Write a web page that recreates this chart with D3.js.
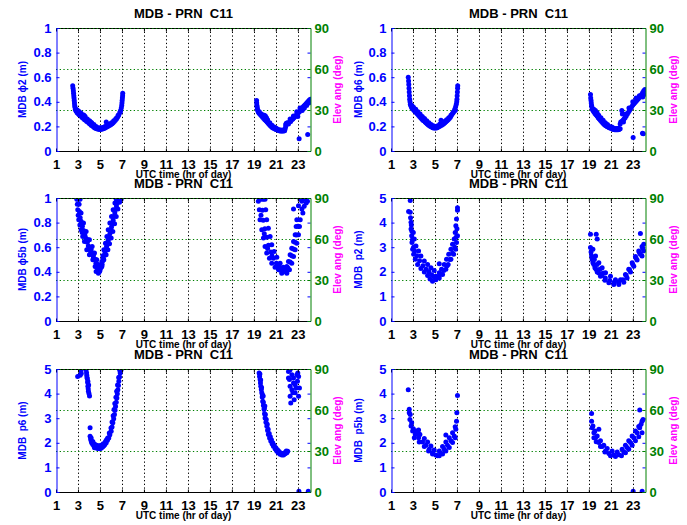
<!DOCTYPE html>
<html><head><meta charset="utf-8">
<script src="https://cdn.jsdelivr.net/npm/d3@7"></script>
<style>
body{margin:0;background:#fff}
svg{display:block;font-family:"Liberation Sans",Arial,Helvetica,sans-serif;font-weight:bold}
</style></head><body><svg id="c" width="687" height="525"></svg>
<script>
const titleText = "MDB - PRN  C11";
const xLabelText = "UTC time (hr of day)";
const elevLabelText = "Elev ang (deg)";
const xTicks = [1,3,5,7,9,11,13,15,17,19,21,23];
const phiTicks = [0,0.2,0.4,0.6,0.8,1];
const pTicks = [0,1,2,3,4,5];
const elevTicks = [0,30,60,90];
const yLabels = ["MDB \u03D52 (m)","MDB \u03D56 (m)","MDB \u03D55b (m)","MDB  p2 (m)","MDB  p6 (m)","MDB  p5b (m)"];

const phi2Points = [
[2.52,0.53],[2.55,0.51],[2.58,0.49],[2.6,0.47],[2.62,0.45],[2.64,0.43],[2.66,0.41],[2.68,0.39],[2.7,0.37],[2.73,0.355],[2.76,0.34],[2.8,0.33],[2.85,0.325],[2.9,0.315],[2.95,0.31],[3.0,0.305],[3.1,0.295],[3.2,0.29],[3.3,0.28],[3.4,0.27],[3.5,0.265],[3.6,0.255],[3.7,0.25],[3.8,0.24],[3.9,0.235],[4.0,0.225],[4.1,0.22],[4.2,0.21],[4.3,0.205],[4.4,0.198],[4.5,0.19],[4.6,0.185],[4.7,0.18],[4.8,0.178],[4.9,0.176],[5.0,0.175],[5.1,0.176],[5.2,0.178],[5.3,0.181],[5.4,0.185],[5.5,0.19],[5.6,0.195],[5.7,0.2],[5.8,0.205],[5.9,0.21],[6.0,0.215],[6.1,0.222],[6.2,0.23],[6.3,0.24],[6.4,0.25],[6.5,0.26],[6.6,0.275],[6.7,0.29],[6.8,0.31],[6.88,0.33],[6.94,0.35],[6.98,0.37],[7.0,0.39],[7.02,0.41],[7.04,0.43],[7.06,0.45],[7.07,0.47],
[2.9,0.335],[3.05,0.325],[3.25,0.31],[3.45,0.295],[3.65,0.28],[3.85,0.26],[4.05,0.245],[4.25,0.23],[4.45,0.215],[4.65,0.2],[4.85,0.19],[5.05,0.19],[5.25,0.192],[5.45,0.2],[5.57,0.235],[5.65,0.21],[5.85,0.22],[6.05,0.23],[6.25,0.245],[6.45,0.265],[6.65,0.29],[6.85,0.32],[3.55,0.29],[4.15,0.235],
[19.25,0.41],[19.26,0.39],[19.28,0.37],[19.3,0.355],[19.33,0.34],[19.36,0.33],[19.4,0.32],[19.45,0.31],[19.5,0.305],[19.6,0.295],[19.7,0.285],[19.8,0.275],[19.9,0.265],[20.0,0.255],[20.1,0.245],[20.2,0.235],[20.3,0.225],[20.4,0.215],[20.5,0.205],[20.6,0.198],[20.7,0.19],[20.8,0.185],[20.9,0.18],[21.0,0.175],[21.1,0.172],[21.2,0.168],[21.3,0.165],[21.4,0.163],[21.5,0.162],[21.6,0.162],[21.7,0.163],[21.8,0.165],
[19.5,0.32],[19.7,0.3],[19.95,0.29],[20.05,0.285],[20.15,0.27],[20.25,0.255],[20.45,0.23],[20.65,0.21],[20.85,0.195],[21.05,0.185],[21.25,0.175],[21.45,0.17],[21.65,0.17],[21.85,0.18],[21.9,0.2],
[21.9,0.215],[21.95,0.225],[22.05,0.23],[22.15,0.22],[22.25,0.235],[22.35,0.24],[22.45,0.255],[22.55,0.26],[22.65,0.27],[22.75,0.28],[22.85,0.29],[22.95,0.3],[23.05,0.31],[23.15,0.32],[23.25,0.335],[23.35,0.345],[23.45,0.355],[23.55,0.365],[23.65,0.375],[23.75,0.385],[23.85,0.395],[23.95,0.405],[24.05,0.415],[24.15,0.42],[24.2,0.41],
[22.3,0.26],[22.6,0.285],[22.9,0.32],[23.2,0.35],[23.4,0.33],[23.6,0.35],[23.8,0.37],[24.0,0.39],[24.1,0.4],[23.0,0.28],
[23.12,0.1],[23.9,0.135]
];

const phi6Points = [
[2.57,0.6],[2.6,0.57],[2.62,0.54],[2.64,0.51],[2.66,0.48],[2.68,0.45],[2.7,0.42],[2.73,0.4],[2.76,0.38],[2.8,0.37],[2.85,0.36],[2.9,0.35],[3.0,0.34],[3.1,0.33],[3.2,0.32],[3.3,0.31],[3.4,0.3],[3.5,0.29],[3.6,0.28],[3.7,0.27],[3.8,0.26],[3.9,0.25],[4.0,0.245],[4.1,0.235],[4.2,0.228],[4.3,0.22],[4.4,0.212],[4.5,0.205],[4.6,0.2],[4.7,0.195],[4.8,0.19],[4.9,0.188],[5.0,0.186],[5.1,0.187],[5.2,0.19],[5.3,0.195],[5.4,0.2],[5.5,0.205],[5.6,0.21],[5.7,0.215],[5.8,0.222],[5.9,0.23],[6.0,0.238],[6.1,0.245],[6.2,0.255],[6.3,0.265],[6.4,0.275],[6.5,0.29],[6.6,0.305],[6.7,0.32],[6.8,0.34],[6.88,0.36],[6.94,0.38],[6.98,0.4],[7.0,0.42],[7.02,0.45],[7.04,0.48],[7.06,0.51],[7.07,0.53],
[2.9,0.37],[3.05,0.355],[3.25,0.34],[3.45,0.32],[3.65,0.3],[3.85,0.28],[4.05,0.265],[4.25,0.245],[4.45,0.23],[4.65,0.215],[4.85,0.205],[5.05,0.2],[5.25,0.205],[5.45,0.22],[5.55,0.25],[5.65,0.23],[5.85,0.24],[6.05,0.255],[6.25,0.27],[6.45,0.29],[6.65,0.31],[6.85,0.33],
[19.15,0.46],[19.17,0.43],[19.2,0.41],[19.22,0.39],[19.25,0.37],[19.28,0.355],[19.32,0.34],[19.38,0.33],[19.45,0.32],[19.55,0.305],[19.65,0.295],[19.75,0.285],[19.85,0.27],[19.95,0.26],[20.05,0.25],[20.15,0.24],[20.25,0.23],[20.35,0.22],[20.45,0.212],[20.55,0.205],[20.65,0.2],[20.75,0.195],[20.85,0.19],[20.95,0.186],[21.05,0.182],[21.15,0.178],[21.25,0.175],[21.35,0.173],[21.45,0.172],[21.55,0.172],[21.65,0.173],[21.75,0.175],[21.85,0.18],
[19.45,0.34],[19.6,0.33],[19.75,0.31],[19.9,0.29],[20.1,0.27],[20.3,0.25],[20.5,0.23],[20.7,0.215],[20.9,0.2],[21.1,0.195],[21.3,0.185],[21.5,0.183],[21.7,0.185],
[21.85,0.22],[21.9,0.235],[22.0,0.24],[22.1,0.25],[22.15,0.235],[22.2,0.26],[22.3,0.27],[22.4,0.285],[22.5,0.3],[22.6,0.315],[22.7,0.33],[22.8,0.345],[22.9,0.36],[23.0,0.375],[23.1,0.385],[23.2,0.395],[23.3,0.405],[23.4,0.415],[23.5,0.425],[23.6,0.435],[23.7,0.445],[23.8,0.46],[23.9,0.475],[24.0,0.49],[24.1,0.5],
[22.0,0.33],[22.05,0.3],[22.35,0.3],[22.65,0.35],[23.0,0.4],[23.3,0.43],[23.6,0.45],[23.9,0.44],[24.05,0.46],
[23.03,0.11],[23.88,0.145],[23.95,0.14]
];

const phi5bPoints = [
[2.89,0.99],[2.98,0.905],[3.07,0.823],[3.28,0.742],[3.43,0.688],[3.59,0.647],[3.8,0.579],[4.04,0.538],[4.35,0.497],[4.56,0.443],[4.65,0.402],
[3.19,0.99],[3.28,0.878],[3.5,0.796],[3.74,0.728],[4.04,0.66],[4.29,0.606],[4.5,0.552],[4.71,0.497],[4.9,0.443],[4.96,0.402],[4.86,0.389],
[3.04,0.99],[3.13,0.89],[3.28,0.81],[3.51,0.735],[3.74,0.67],[3.94,0.61],[4.15,0.565],[4.4,0.52],[4.63,0.47],[4.8,0.42],
[2.94,0.95],[3.02,0.86],[3.17,0.78],[3.38,0.72],[3.63,0.69],[3.85,0.64],[4.1,0.6],[4.3,0.55],[4.5,0.5],[4.7,0.44],
[3.1,0.95],[3.2,0.84],[3.4,0.77],[3.62,0.7],[3.9,0.66],[4.2,0.58],[4.42,0.54],[4.6,0.5],[4.85,0.46],
[5.05,0.43],[5.17,0.484],[5.26,0.53],[5.35,0.579],[5.5,0.633],[5.63,0.688],[5.75,0.742],[5.9,0.796],[6.05,0.85],[6.2,0.905],[6.36,0.959],[6.48,0.99],
[5.17,0.443],[5.35,0.497],[5.56,0.538],[5.72,0.579],[5.87,0.628],[6.02,0.674],[6.17,0.728],[6.33,0.791],[6.48,0.85],[6.63,0.91],[6.78,0.965],[6.93,0.99],
[5.11,0.436],[5.26,0.49],[5.41,0.534],[5.53,0.58],[5.68,0.63],[5.82,0.68],[5.96,0.735],[6.11,0.79],[6.26,0.85],[6.41,0.907],[6.57,0.962],[6.7,0.99],
[5.2,0.46],[5.3,0.51],[5.45,0.56],[5.6,0.605],[5.75,0.655],[5.9,0.71],[6.05,0.765],[6.2,0.82],[6.35,0.88],[6.5,0.935],[6.62,0.975],
[5.0,0.41],[4.95,0.43],
[19.41,0.973],[19.5,0.905],[19.56,0.823],[19.72,0.742],[19.87,0.674],[20.02,0.606],[20.17,0.552],[20.42,0.511],[20.63,0.47],[20.93,0.4375],[21.24,0.416],[21.54,0.402],
[20.02,0.99],[20.08,0.905],[20.17,0.823],[20.32,0.755],[20.48,0.688],[20.63,0.62],[20.84,0.565],[21.09,0.519],[21.39,0.47],[21.69,0.4375],
[19.7,0.99],[19.78,0.9],[19.85,0.82],[20.0,0.75],[20.17,0.68],[20.33,0.615],[20.55,0.56],[20.78,0.51],[21.05,0.47],[21.35,0.44],[21.6,0.42],[19.65,0.86],[19.95,0.71],[20.25,0.59],[20.65,0.53],[21.2,0.45],
[21.54,0.389],
[21.85,0.416],[22.0,0.443],[22.15,0.484],[22.3,0.538],[22.45,0.592],[22.61,0.647],[22.76,0.701],[22.85,0.769],[22.91,0.823],
[22.0,0.389],[22.24,0.416],[22.45,0.47],[22.61,0.524],[22.76,0.579],[22.91,0.633],[23.06,0.701],[23.15,0.769],[23.22,0.823],
[21.9,0.4],[22.1,0.43],[22.3,0.48],[22.45,0.53],[22.6,0.585],[22.75,0.64],[22.88,0.7],[23.0,0.77],
[22.61,0.91],[23.06,0.9375],[23.37,0.973],[23.46,0.878],[23.58,0.932],[23.76,0.959],[23.37,0.91],[23.67,0.99],[23.22,0.99],[23.88,0.973],[19.87,0.99]
];

const p2Points = [
[2.75,4.9],[2.6,4.45],[2.75,4.42],[2.82,4.01],[2.82,3.74],[2.88,3.47],[2.91,3.19],[2.97,2.92],[3.06,2.71],[3.21,2.51],[3.42,2.3],[3.72,2.13],[4.03,1.99],[4.33,1.85],[4.55,1.71],[4.78,1.62],
[3.03,3.6],[3.12,3.33],[3.27,3.05],[3.51,2.85],[3.72,2.64],[4.03,2.44],[4.33,2.3],[4.63,2.16],[4.93,2.05],
[2.95,3.3],[3.05,3.0],[3.15,2.85],[3.35,2.65],[3.6,2.45],[3.9,2.25],[4.2,2.1],[4.45,2.0],[4.7,1.88],[4.9,1.8],[2.85,3.9],[2.9,3.65],[2.78,4.2],
[5.08,1.68],[5.39,1.75],[5.69,1.89],[5.99,2.1],[6.2,2.3],[6.45,2.51],[6.7,2.71],[6.87,2.92],[6.96,3.19],[7.05,3.47],
[5.08,1.82],[5.39,1.96],[5.6,2.1],[5.84,2.3],[6.05,2.51],[6.25,2.71],[6.45,2.92],[6.6,3.12],[6.75,3.33],[6.84,3.6],[6.9,3.87],[6.96,4.15],[7.05,4.5],[7.05,4.6],
[5.25,1.8],[5.5,1.9],[5.8,2.05],[6.1,2.25],[6.35,2.5],[6.6,2.75],[6.8,3.0],[6.92,3.4],[7.0,3.75],
[5.39,2.33],
[19.15,3.53],[19.67,3.53],[19.76,3.33],[23.69,3.56],
[19.15,2.99],[19.25,2.64],[19.37,2.37],[19.55,2.16],[19.76,1.99],[20.06,1.82],[20.46,1.66],[20.82,1.55],[21.27,1.48],[21.73,1.48],[22.18,1.58],[22.48,1.75],[22.79,1.99],[23.09,2.23],[23.39,2.48],[23.69,2.71],[23.99,2.85],
[19.37,2.92],[19.61,2.64],[19.91,2.37],[20.21,2.16],[20.52,1.96],[20.97,1.82],[21.42,1.68],[21.88,1.68],[22.33,1.89],[22.63,2.1],[22.94,2.37],[23.24,2.62],[23.54,2.85],[23.84,3.03],[23.99,3.12],
[19.2,2.8],[19.3,2.5],[19.45,2.3],[19.65,2.1],[19.9,1.95],[20.2,1.85],[20.5,1.75],[20.9,1.65],[21.3,1.58],[21.7,1.57],[22.1,1.68],[22.4,1.85],[22.7,2.08],[23.0,2.3],[23.3,2.55],[23.6,2.78],[23.9,2.95],[19.5,2.5],[19.75,2.3],[20.0,2.1],[20.3,1.95],
[23.84,2.64]
];

const p6Points = [
[2.97,4.7],[3.28,4.94],[3.3,4.82],[3.2,4.75],[3.74,4.97],[3.78,4.85],[3.8,4.75],[3.82,4.65],[3.85,4.6],[3.88,4.45],[3.9,4.5],[3.9,4.3],[3.93,4.2],[3.97,4.35],[3.95,4.1],[4.0,4.0],[4.05,3.9],
[4.1,2.61],
[4.1,2.27],[4.15,2.15],[4.2,2.07],[4.3,1.98],[4.35,1.93],[4.45,1.87],[4.55,1.83],[4.65,1.8],[4.75,1.78],[4.85,1.77],[4.95,1.76],[5.05,1.77],[5.15,1.8],[5.26,1.84],[5.35,1.88],[5.45,1.93],[5.57,2.0],[5.68,2.1],[5.8,2.2],[5.9,2.33],[6.02,2.47],[6.1,2.64],[6.17,2.81],[6.25,2.98],[6.32,3.15],[6.37,3.32],[6.42,3.48],[6.48,3.65],[6.54,3.82],[6.58,3.99],[6.63,4.16],[6.68,4.33],[6.72,4.5],[6.78,4.67],[6.84,4.84],[6.93,4.97],
[4.2,2.2],[4.35,2.05],[4.5,1.95],[4.7,1.9],[4.9,1.88],[5.1,1.9],[5.3,1.96],[5.5,2.05],[5.7,2.2],[5.85,2.4],[6.0,2.6],[6.1,2.85],[6.2,3.1],[6.28,3.35],[6.35,3.6],[6.45,3.85],[6.52,4.1],[6.6,4.35],[6.7,4.65],[6.8,4.95],[4.25,2.0],[4.5,1.8],[5.0,1.82],[5.6,2.12],
[19.48,4.84],[19.52,4.7],[19.57,4.57],[19.6,4.43],[19.63,4.3],[19.68,4.17],[19.72,4.03],[19.76,3.86],[19.81,3.69],[19.87,3.52],[19.93,3.35],[19.97,3.18],[20.02,3.01],[20.1,2.84],[20.18,2.67],[20.25,2.5],[20.32,2.34],[20.43,2.2],[20.54,2.07],[20.66,1.96],[20.78,1.86],[20.93,1.76],[21.09,1.66],[21.24,1.59],[21.39,1.53],[21.55,1.5],[21.7,1.5],[21.85,1.55],[22.0,1.6],[22.08,1.66],
[19.55,4.8],[19.62,4.55],[19.7,4.25],[19.78,3.95],[19.86,3.65],[19.95,3.4],[20.05,3.15],[20.13,2.95],[20.22,2.75],[20.3,2.55],[20.4,2.38],[20.5,2.25],[20.6,2.12],[20.72,2.0],[20.85,1.9],[21.0,1.8],[21.15,1.72],[21.3,1.65],[21.5,1.58],[21.65,1.56],[21.8,1.6],[21.95,1.67],[19.85,3.9],[20.0,3.5],
[22.15,4.9],[22.3,4.97],[22.46,4.77],[22.24,4.57],[22.3,4.3],[22.46,4.16],[22.61,4.43],[22.76,4.36],[22.92,4.77],[23.07,4.7],[22.55,4.03],[22.3,3.89],[22.36,3.62],[22.76,4.03],[22.97,4.5],[23.15,4.23],[22.15,4.63],[22.61,4.63],[22.85,4.23],[22.67,3.75],[23.07,3.89],[23.0,4.84],
[23.1,0.03],[23.95,0.03]
];

const p5bPoints = [
[2.57,4.16],
[2.66,3.36],[2.66,3.22],[2.72,2.95],[2.75,3.15],[2.82,2.68],[2.88,2.82],[2.97,2.48],[3.21,2.34],[3.51,2.21],[3.87,2.03],[4.18,1.9],[4.48,1.74],[4.78,1.6],[5.08,1.5],[5.24,1.47],[5.54,1.58],[5.84,1.74],[6.14,1.9],[6.45,2.08],[6.75,2.28],[6.9,2.55],[6.96,2.88],[6.99,3.22],[7.05,3.92],
[3.03,2.57],[3.27,2.48],[3.63,2.34],[4.03,2.17],[4.33,2.03],[4.63,1.87],[4.93,1.71],[5.39,1.67],[5.69,1.85],[5.99,2.03],[6.3,2.21],[6.6,2.41],[6.84,2.65],
[3.12,2.21],[3.57,2.03],[4.03,1.85],[4.42,1.67],[4.78,1.54],[5.39,1.47],[5.69,1.54],[5.99,1.67],[6.3,1.81],[6.6,2.01],[6.84,2.21],
[3.51,2.52],[5.99,2.32],[3.57,2.35],
[19.25,3.19],[19.25,2.88],[19.3,2.61],[19.46,2.41],[19.61,2.21],[19.91,2.55],[19.91,2.01],[20.21,1.85],[20.52,1.67],[20.82,1.56],[21.27,1.5],[21.73,1.51],[22.18,1.63],[22.48,1.81],[22.79,2.01],[23.09,2.21],[23.39,2.41],[23.63,2.61],[23.84,2.88],[23.63,3.33],
[19.37,2.68],[19.55,2.48],[19.76,2.28],[20.06,2.08],[20.36,1.9],[20.67,1.77],[21.12,1.67],[21.58,1.63],[22.03,1.74],[22.33,1.9],[22.63,2.08],[22.94,2.28],[23.24,2.48],[23.54,2.66],[23.75,2.75],[23.93,2.95],
[19.46,2.21],[19.67,2.04],[20.06,1.85],[20.46,1.63],[20.97,1.47],[21.42,1.44],[21.97,1.47],[22.33,1.6],[22.63,1.74],[22.94,1.9],[23.24,2.08],[23.54,2.25],[23.84,2.41],
[23.03,0.03],[23.85,0.03]
];

const panels = [
  {data: phi2Points, ticks: phiTicks, label: yLabels[0]},
  {data: phi6Points, ticks: phiTicks, label: yLabels[1]},
  {data: phi5bPoints, ticks: phiTicks, label: yLabels[2]},
  {data: p2Points, ticks: pTicks, label: yLabels[3]},
  {data: p6Points, ticks: pTicks, label: yLabels[4]},
  {data: p5bPoints, ticks: pTicks, label: yLabels[5]}
];

const colLeft = [56, 391], colRight = [311, 646];
const rowTop = [28, 198, 369], plotH = 123;
const leftLabelX = [22, 358], rightLabelX = [337, 673];
const BLUE = "#0000ff", GREEN = "#008000", MAG = "#ff00ff";

const svg = d3.select("#c");
const defs = svg.append("defs");

function styleAxis(g, color, size) {
  g.attr("font-family", null).attr("font-size", size).attr("color", color);
  g.selectAll("text").attr("font-weight", "bold");
}

panels.forEach((p, i) => {
  const r = Math.floor(i / 2), c = i % 2;
  const L = colLeft[c], R = colRight[c], T = rowTop[r], B = T + plotH;
  const x = d3.scaleLinear().domain([1, 24.2]).range([L, R]);
  const y = d3.scaleLinear().domain([0, d3.max(p.ticks)]).range([B, T]);
  const ye = d3.scaleLinear().domain([0, 90]).range([B, T]);
  const g = svg.append("g");

  defs.append("clipPath").attr("id", "clip" + i)
    .append("rect").attr("x", L).attr("y", T).attr("width", R - L).attr("height", B - T);

  g.append("g").selectAll("line").data(xTicks.filter(t => t > 1)).enter().append("line")
    .attr("x1", d => Math.round(x(d)) + 0.5).attr("x2", d => Math.round(x(d)) + 0.5)
    .attr("y1", T).attr("y2", B)
    .attr("stroke", "#000").attr("stroke-width", 1).attr("stroke-dasharray", "1.3,2.4");
  g.append("g").selectAll("line").data(elevTicks.filter(t => t > 0 && t < 90)).enter().append("line")
    .attr("x1", L).attr("x2", R)
    .attr("y1", d => Math.round(ye(d)) + 0.5).attr("y2", d => Math.round(ye(d)) + 0.5)
    .attr("stroke", GREEN).attr("stroke-width", 1).attr("stroke-dasharray", "1.3,2.4");

  g.append("g").attr("clip-path", `url(#clip${i})`)
    .selectAll("circle").data(p.data).enter().append("circle")
    .attr("cx", d => x(d[0])).attr("cy", d => y(d[1])).attr("r", 2.5).attr("fill", BLUE);

  const ax = g.append("g").attr("transform", `translate(0,${B + 0.5})`)
    .call(d3.axisBottom(x).tickValues(xTicks).tickSize(-3).tickSizeOuter(0).tickPadding(8).tickFormat(d3.format("d")));
  styleAxis(ax, "#000", 13);
  ax.select(".domain").attr("d", `M${L},0H${R}`);
  const axT = g.append("g").attr("transform", `translate(0,${T + 0.5})`)
    .call(d3.axisTop(x).tickValues(xTicks).tickSize(-3).tickSizeOuter(0));
  styleAxis(axT, "#000", 13);
  axT.selectAll("text").remove();
  axT.select(".domain").attr("d", `M${L},0H${R}`);
  g.append("line").attr("x1", L).attr("x2", R).attr("y1", ye(90) + 0.5).attr("y2", ye(90) + 0.5)
    .attr("stroke", GREEN).attr("stroke-width", 1).attr("stroke-dasharray", "1.3,2.4");

  const ay = g.append("g").attr("transform", `translate(${L + 0.5},0)`)
    .call(d3.axisLeft(y).tickValues(p.ticks).tickSize(-3).tickSizeOuter(0).tickPadding(5).tickFormat(d3.format("~g")));
  styleAxis(ay, BLUE, 13);
  const ay2 = g.append("g").attr("transform", `translate(${R - 0.5},0)`)
    .call(d3.axisRight(y).tickValues(p.ticks).tickSize(-3).tickSizeOuter(0));
  styleAxis(ay2, BLUE, 13);
  ay2.selectAll("text").remove();
  ay2.select(".domain").remove();
  const ar = g.append("g").attr("transform", `translate(${R - 0.5},0)`)
    .call(d3.axisRight(ye).tickValues(elevTicks).tickSize(-3).tickSizeOuter(0).tickPadding(4));
  styleAxis(ar, GREEN, 13);

  g.append("text").attr("x", (L + R) / 2).attr("y", T - 10).attr("text-anchor", "middle")
    .attr("font-size", 13).attr("fill", "#000").style("white-space", "pre").text(titleText);
  g.append("text").attr("x", (L + R) / 2).attr("y", B + 27).attr("text-anchor", "middle")
    .attr("font-size", 10).attr("fill", "#000").text(xLabelText);
  g.append("text").attr("transform", `translate(${leftLabelX[c]},${(T + B) / 2}) rotate(-90)`)
    .attr("text-anchor", "middle").attr("dy", "0.35em").attr("font-size", 10).attr("fill", BLUE)
    .style("white-space", "pre").text(p.label);
  g.append("text").attr("transform", `translate(${rightLabelX[c]},${(T + B) / 2}) rotate(-90)`)
    .attr("text-anchor", "middle").attr("dy", "0.35em").attr("font-size", 10).attr("fill", MAG)
    .text(elevLabelText);
});
</script></body></html>
